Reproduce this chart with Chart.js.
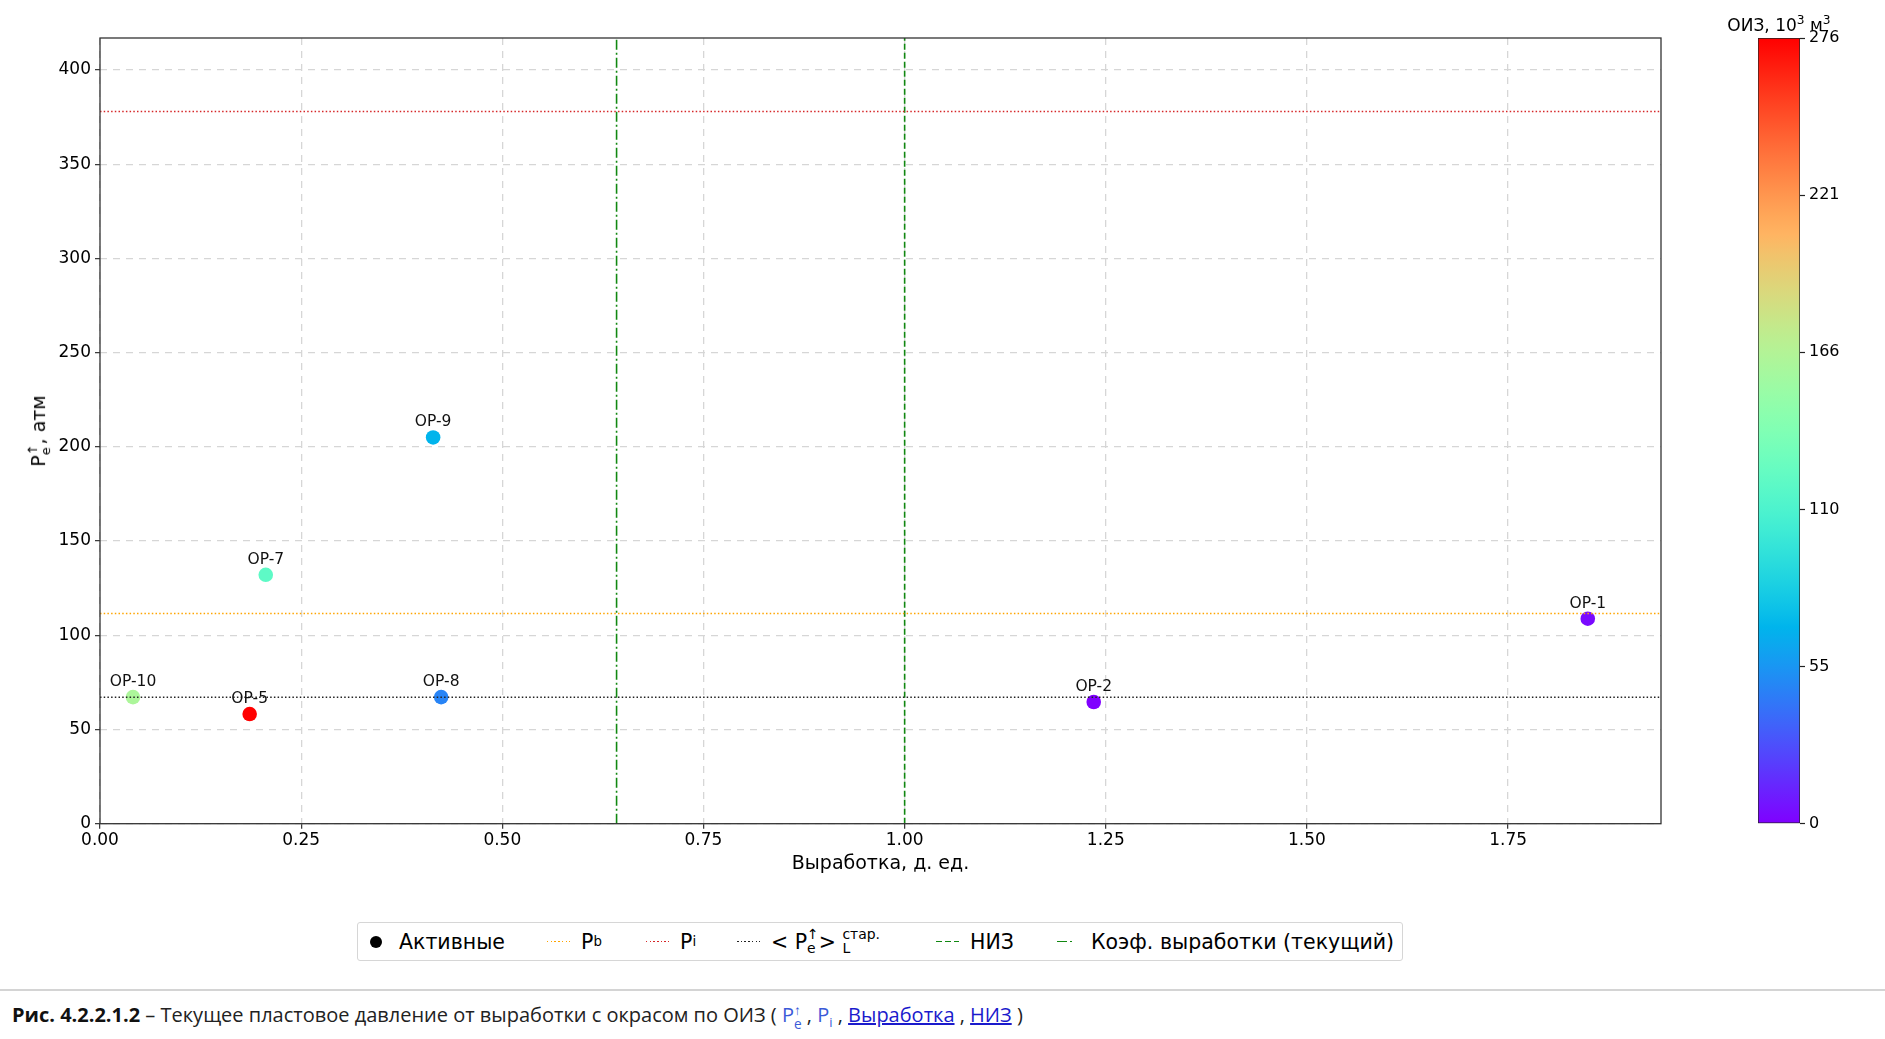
<!DOCTYPE html>
<html lang="ru">
<head>
<meta charset="utf-8">
<title>Текущее пластовое давление от выработки</title>
<script src="https://cdn.jsdelivr.net/npm/chart.js@4.4.1/dist/chart.umd.min.js"></script>
<style>
  html, body { margin: 0; padding: 0; background: #fff; }
  body { width: 1885px; height: 1039px; position: relative; overflow: hidden; font-family: 'DejaVu Sans', sans-serif; color: #000; }
  #main { position: absolute; left: 0; top: 0; }
  #cbar { position: absolute; left: 1700px; top: 0; }
  .ytitle { position: absolute; left: 40px; top: 431px; transform: translate(-50%, -50%) rotate(-90deg); font-size: 19px; white-space: nowrap; }
  .cbtitle { position: absolute; left: 1779px; top: 24px; transform: translate(-50%, -50%); font-size: 17px; white-space: nowrap; }
  .cbtitle sup { font-size: 0.72em; }
  .ss { display: inline-flex; flex-direction: column; font-size: 0.68em; line-height: 1; vertical-align: middle; text-align: left; }
  .legend { position: absolute; left: 357px; top: 922px; width: 1044px; height: 37px; border: 1px solid #d6d6d6; border-radius: 3px;
            font-size: 20.5px; box-sizing: content-box; }
  .item { display: flex; align-items: center; position: absolute; top: 0; height: 37px; white-space: nowrap; }
  .item .h { width: 23px; margin-right: 11px; }
  .dot { width: 12px; height: 12px; border-radius: 50%; background: #000; margin-right: 17px; }
  .caption { position: absolute; left: 0; top: 989px; width: 1885px; border-top: 2px solid #d4d4d4; padding: 10px 0 0 12px;
             font-family: 'Open Sans', sans-serif; font-size: 20px; color: #222; white-space: nowrap; }
  .caption b { color: #111; }
  .caption .p { color: #3a5ad8; }
  .caption a { color: #1a1acc; text-decoration: underline; }
</style>
</head>
<body>
<canvas id="main" width="1700" height="900"></canvas>
<canvas id="cbar" width="185" height="900"></canvas>
<div class="ytitle">P<span class="ss"><span>↑</span><span>e</span></span>, атм</div>
<div class="cbtitle">ОИЗ, 10<sup>3</sup> м<sup>3</sup></div>
<div class="legend" id="legend"></div>
<div class="caption"><b>Рис. 4.2.2.1.2</b> – Текущее пластовое давление от выработки с окрасом по ОИЗ ( <span class="p">P<span class="ss"><span>↑</span><span>e</span></span></span> , <span class="p">P<sub style="font-size:0.65em">i</sub></span> , <a>Выработка</a> , <a>НИЗ</a> )</div>
<script>
// wells
const wellNames    = ['OP-1', 'OP-2', 'OP-5', 'OP-7', 'OP-8', 'OP-9', 'OP-10'];
const wellRecovery = [1.849, 1.235, 0.186, 0.206, 0.424, 0.414, 0.041];
const wellPressure = [108.8, 64.6, 58.2, 132.1, 67.2, 205.0, 67.2];
const wellOIZ      = [3, 0, 276, 120, 48, 69, 162];

// reference levels
const pBubble = 111.6;       // Pb
const pInitial = 378;        // Pi
const pAvgOld = 67.1;        // <Pe> старые
const recoveryNIZ = 1.0;     // НИЗ
const recoveryCurrent = 0.642;

// axes
const xMax = 1.94;
const yMax = 417;
const oizMax = 276;
const xTicks = [0, 0.25, 0.5, 0.75, 1.0, 1.25, 1.5, 1.75];
const yTicks = [0, 50, 100, 150, 200, 250, 300, 350, 400];
const cbTicks = [0, 55.2, 110.4, 165.6, 220.8, 276];

const FONT = 'DejaVu Sans';

// matplotlib "rainbow"
function rainbow(t) {
  t = Math.max(0, Math.min(1, t));
  const r = Math.min(1, Math.abs(2 * t - 0.5));
  const g = Math.sin(Math.PI * t);
  const b = Math.max(0, Math.cos(Math.PI * t / 2));
  return 'rgb(' + Math.round(r * 255) + ',' + Math.round(g * 255) + ',' + Math.round(b * 255) + ')';
}

function hLine(label, y, color) {
  return { label, type: 'scatter', showLine: true, data: [{x: 0, y}, {x: xMax, y}],
    borderColor: color, borderWidth: 1.5, borderDash: [1.5, 2.2], pointRadius: 0, fill: false, order: 0 };
}
function vLine(label, x, dash) {
  return { label, type: 'scatter', showLine: true, data: [{x, y: 0}, {x, y: yMax}],
    borderColor: '#118811', borderWidth: 1.6, borderDash: dash, pointRadius: 0, fill: false, order: 0 };
}

const gridStyle = { color: '#d6d6d6', lineWidth: 1.3, tickLength: 5, tickColor: '#333', tickWidth: 1.2, tickBorderDash: [] };
// in v4 the grid line dash lives under border
const borderStyle = { display: false, dash: [7, 6] };

const frame = {
  id: 'frame',
  afterDatasetsDraw(chart) {
    const {ctx, chartArea: a} = chart;
    ctx.save();
    ctx.strokeStyle = '#333';
    ctx.lineWidth = 1.3;
    ctx.strokeRect(a.left, a.top, a.right - a.left, a.bottom - a.top);
    ctx.restore();
  }
};

const wellLabels = {
  id: 'wellLabels',
  afterDatasetsDraw(chart) {
    const {ctx} = chart;
    const meta = chart.getDatasetMeta(0);
    ctx.save();
    ctx.font = '15.5px "' + FONT + '"';
    ctx.fillStyle = '#111';
    ctx.textAlign = 'center';
    ctx.textBaseline = 'middle';
    meta.data.forEach((pt, i) => ctx.fillText(wellNames[i], pt.x, pt.y - 15));
    ctx.restore();
  }
};

new Chart(document.getElementById('main'), {
  type: 'scatter',
  data: {
    datasets: [
      { label: 'Активные', data: wellRecovery.map((x, i) => ({x, y: wellPressure[i]})),
        pointRadius: 7.3, pointHoverRadius: 7.3, pointBorderWidth: 0,
        pointBackgroundColor: wellOIZ.map(v => rainbow(v / oizMax)), order: 2 },
      hLine('Pb', pBubble, '#ffa500'),
      hLine('Pi', pInitial, '#d62728'),
      hLine('Pe', pAvgOld, '#222'),
      vLine('НИЗ', recoveryNIZ, [6, 3]),
      vLine('Коэф. выработки (текущий)', recoveryCurrent, [10, 3, 2, 3])
    ]
  },
  options: {
    animation: false, responsive: false, events: [],
    layout: { padding: { top: 38, right: 39, bottom: 16.3, left: 0 } },
    plugins: { legend: { display: false }, tooltip: { enabled: false } },
    scales: {
      x: {
        type: 'linear', min: 0, max: xMax,
        afterBuildTicks: s => { s.ticks = xTicks.map(v => ({value: v})); },
        afterFit: s => { s.height = 60; },
        ticks: { font: { family: FONT, size: 17 }, color: '#000', padding: 2, maxRotation: 0, autoSkip: false,
                 callback: v => v.toFixed(2) },
        grid: gridStyle, border: borderStyle,
        title: { display: true, text: 'Выработка, д. ед.', font: { family: FONT, size: 19 }, color: '#000', padding: { bottom: 8.6 } }
      },
      y: {
        type: 'linear', min: 0, max: yMax,
        afterBuildTicks: s => { s.ticks = yTicks.map(v => ({value: v})); },
        afterFit: s => { s.width = 100; },
        ticks: { font: { family: FONT, size: 17 }, color: '#000', padding: 4, autoSkip: false },
        grid: gridStyle, border: borderStyle
      }
    }
  },
  plugins: [frame, wellLabels]
});

// colorbar
function barGradient(chart) {
  const a = chart.chartArea;
  if (!a) return '#888';
  const g = chart.ctx.createLinearGradient(0, a.bottom, 0, a.top);
  for (let i = 0; i <= 40; i++) g.addColorStop(i / 40, rainbow(i / 40));
  return g;
}

new Chart(document.getElementById('cbar'), {
  type: 'bar',
  data: {
    labels: [''],
    datasets: [{ data: [[0, oizMax]], backgroundColor: c => barGradient(c.chart), borderColor: '#222', borderWidth: 1,
                 borderSkipped: false, barPercentage: 1, categoryPercentage: 1 }]
  },
  options: {
    animation: false, responsive: false, events: [],
    layout: { padding: { top: 38, left: 58, bottom: 76.3, right: 0 } },
    plugins: { legend: { display: false }, tooltip: { enabled: false } },
    scales: {
      x: { display: false },
      y: {
        position: 'right', min: 0, max: oizMax,
        afterBuildTicks: s => { s.ticks = cbTicks.map(v => ({value: v})); },
        afterFit: s => { s.width = 85; },
        ticks: { font: { family: FONT, size: 16 }, color: '#000', padding: 4, callback: v => Math.round(v) },
        grid: { drawOnChartArea: false, tickLength: 5, tickColor: '#222', tickWidth: 1.2 },
        border: { display: false }
      }
    }
  }
});

// legend (html, same styles as the datasets)
const legendItems = [
  { left: 12, html: '<div class="dot"></div>Активные' },
  { left: 189, sample: ['#ffa500', 'dotted'], html: 'P<sub style="font-size:0.65em">b</sub>' },
  { left: 288, sample: ['#d62728', 'dotted'], html: 'P<sub style="font-size:0.65em">i</sub>' },
  { left: 379, sample: ['#222', 'dotted'], html: '&lt; P<span class="ss"><span>↑</span><span>e</span></span> &gt;&nbsp;<span class="ss"><span>стар.</span><span>L</span></span>' },
  { left: 578, sample: ['#118811', 'dashed'], html: 'НИЗ' },
  { left: 699, sample: ['#118811', 'dashdot'], html: 'Коэф. выработки (текущий)' }
];
const legend = document.getElementById('legend');
legendItems.forEach(it => {
  const d = document.createElement('div');
  d.className = 'item';
  d.style.left = it.left + 'px';
  let h = '';
  if (it.sample) {
    const [col, kind] = it.sample;
    let bg;
    if (kind === 'dotted') bg = 'repeating-linear-gradient(90deg,' + col + ' 0 1.5px, transparent 1.5px 3.7px)';
    else if (kind === 'dashed') bg = 'repeating-linear-gradient(90deg,' + col + ' 0 6px, transparent 6px 9px)';
    else bg = 'linear-gradient(90deg,' + col + ' 0 10px, transparent 10px 13px,' + col + ' 13px 15px, transparent 15px)';
    h = '<div class="h" style="height:1.6px;background:' + bg + '"></div>';
  }
  d.innerHTML = h + it.html;
  legend.appendChild(d);
});
</script>
</body>
</html>
